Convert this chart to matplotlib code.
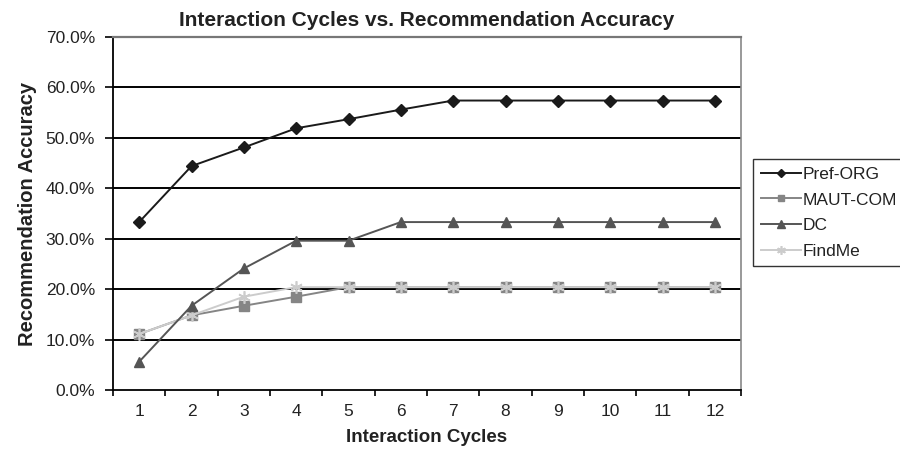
import matplotlib
matplotlib.use("Agg")
import matplotlib.pyplot as plt
from matplotlib.ticker import FuncFormatter, FixedLocator

cycles = [1, 2, 3, 4, 5, 6, 7, 8, 9, 10, 11, 12]
pref_org = [33.3, 44.4, 48.1, 51.9, 53.7, 55.6, 57.4, 57.4, 57.4, 57.4, 57.4, 57.4]
maut_com = [11.1, 14.8, 16.7, 18.5, 20.4, 20.4, 20.4, 20.4, 20.4, 20.4, 20.4, 20.4]
dc = [5.6, 16.7, 24.1, 29.6, 29.6, 33.3, 33.3, 33.3, 33.3, 33.3, 33.3, 33.3]
findme = [11.1, 14.8, 18.5, 20.4, 20.4, 20.4, 20.4, 20.4, 20.4, 20.4, 20.4, 20.4]

plt.rcParams['font.family'] = ['Liberation Sans', 'DejaVu Sans']

fig = plt.figure(figsize=(9, 4.59), dpi=100)
ax = fig.add_axes([113/900, 1-390/459, 628/900, 353/459])

ax.plot(cycles, pref_org, color='#1a1a1a', marker='D', ms=6.5, lw=1.4, label='Pref-ORG', zorder=5)
ax.plot(cycles, maut_com, color='#858585', marker='s', ms=6.5, lw=1.4, label='MAUT-COM', zorder=3)
ax.plot(cycles, dc, color='#555555', marker='^', ms=7.5, lw=1.4, label='DC', zorder=4)
ax.plot(cycles, findme, color='#cccccc', marker=(6, 2, 0), ms=9, mew=1.2, lw=1.4, label='FindMe', zorder=3)

ax.set_xlim(0.5, 12.5)
ax.set_ylim(0, 70)
ax.set_yticks(range(0, 71, 10))
ax.yaxis.set_major_formatter(FuncFormatter(lambda v, p: f'{v:.1f}%'))
ax.set_xticks(cycles)
ax.xaxis.set_minor_locator(FixedLocator([c - 0.5 for c in cycles] + [12.5]))
ax.tick_params(axis='x', which='major', length=0, labelsize=12.5, pad=10, labelcolor='#222222')
ax.tick_params(axis='x', which='minor', length=4, width=1.2, direction='out', color='black')
ax.tick_params(axis='y', length=6, width=1.2, direction='out', labelsize=12.5, pad=7, labelcolor='#222222')

for y in range(10, 70, 10):
    ax.axhline(y, color='black', lw=1.4, zorder=1)

ax.spines['left'].set_color('black')
ax.spines['left'].set_linewidth(1.3)
ax.spines['bottom'].set_color('black')
ax.spines['bottom'].set_linewidth(1.3)
ax.spines['top'].set_color('#777777')
ax.spines['top'].set_linewidth(1.6)
ax.spines['right'].set_color('#888888')
ax.spines['right'].set_linewidth(1.2)

ax.set_title('Interaction Cycles vs. Recommendation Accuracy', fontsize=15, fontweight='bold', pad=8, color='#222222')
ax.set_xlabel('Interaction Cycles', fontsize=13.5, fontweight='bold', labelpad=7, color='#222222')
ax.set_ylabel('Recommendation Accuracy', fontsize=14.5, fontweight='bold', labelpad=6, color='#222222')

leg = ax.legend(loc='upper left', bbox_to_anchor=(753/900, 1-159/459), bbox_transform=fig.transFigure,
                frameon=True, fancybox=False, edgecolor='black', fontsize=12.5,
                handlelength=2.3, handletextpad=0.1, labelspacing=0.6, borderpad=0.45,
                borderaxespad=0, markerscale=0.7)
leg.get_frame().set_linewidth(1.0)
for t in leg.get_texts():
    t.set_color('#222222')

fig.savefig('out.png', dpi=100)
